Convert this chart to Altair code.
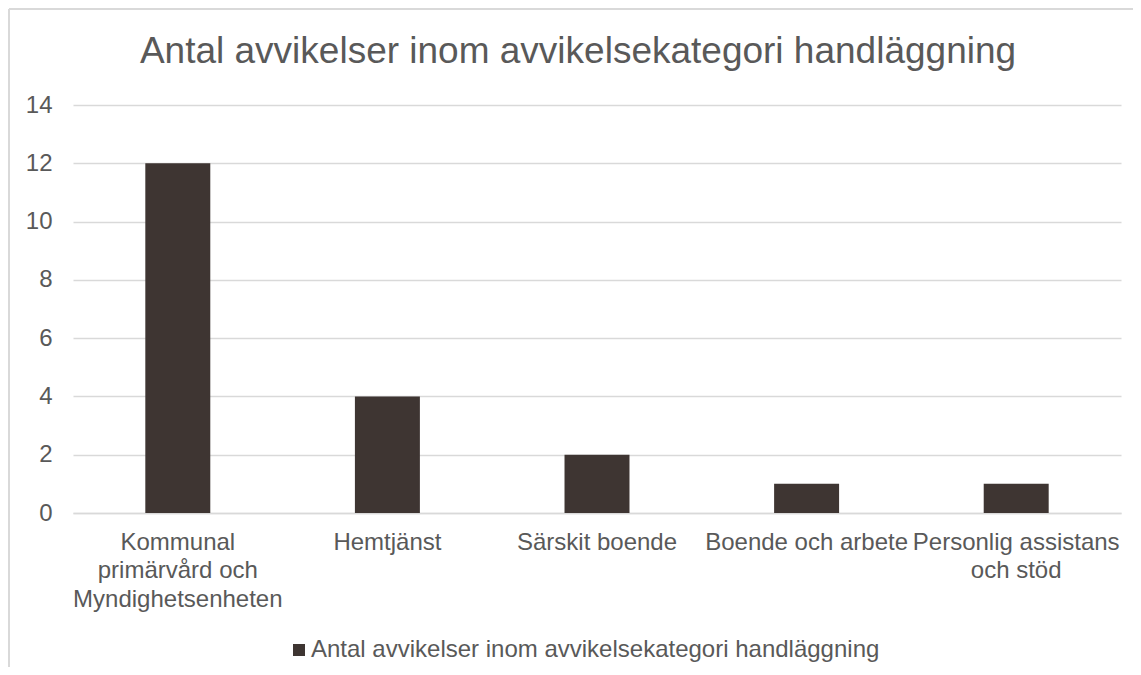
import altair as alt
import pandas as pd

categories = [
    "Kommunal\nprimärvård och\nMyndighetsenheten",
    "Hemtjänst",
    "Särskit boende",
    "Boende och arbete",
    "Personlig assistans\noch stöd",
]
values = [12, 4, 2, 1, 1]
series_name = "Antal avvikelser inom avvikelsekategori handläggning"
y_ticks = [0, 2, 4, 6, 8, 10, 12, 14]

df = pd.DataFrame({"kategori": categories, "antal": values, "serie": series_name})

FONT = "Liberation Sans"
TEXT = "#595959"
GRID = "#D9D9D9"
BAR = "#3E3532"

bars = alt.Chart(df).mark_bar(color=BAR).encode(
    x=alt.X(
        "kategori:N",
        sort=categories,
        scale=alt.Scale(paddingInner=0.69, paddingOuter=0.345),
        axis=alt.Axis(
            title=None,
            labelAngle=0,
            labelExpr="split(datum.label, '\\n')",
            labelFontSize=24,
            labelLineHeight=28.5,
            labelColor=TEXT,
            labelFont=FONT,
            labelPadding=17,
            labelBaseline="top",
            labelLimit=0,
            ticks=False,
            domain=True,
            domainColor=GRID,
            domainWidth=1.3,
            grid=False,
            labelOverlap=False,
        ),
    ),
    y=alt.Y(
        "antal:Q",
        scale=alt.Scale(domain=[0, 14], nice=False),
        axis=alt.Axis(
            title=None,
            values=y_ticks,
            labelFontSize=24,
            labelColor=TEXT,
            labelFont=FONT,
            labelPadding=21,
            ticks=False,
            domain=False,
            gridColor=GRID,
            gridWidth=1.3,
        ),
    ),
    color=alt.Color(
        "serie:N",
        scale=alt.Scale(range=[BAR]),
        legend=alt.Legend(
            title=None,
            orient="none",
            legendX=214,
            legendY=533,
            symbolType="square",
            symbolSize=144,
            symbolStrokeWidth=0,
            labelFontSize=24,
            labelColor=TEXT,
            labelFont=FONT,
            labelOffset=0,
            padding=0,
            labelLimit=0,
        ),
    ),
)

frame_data = alt.Data(values=[{"f": 1}])
frame_top = alt.Chart(frame_data).mark_rule(color=GRID, strokeWidth=2, clip=False).encode(
    x=alt.value(-64), x2=alt.value(1060), y=alt.value(-96)
)
frame_left = alt.Chart(frame_data).mark_rule(color=GRID, strokeWidth=2, clip=False).encode(
    x=alt.value(-64), y=alt.value(-96), y2=alt.value(570)
)

chart = alt.layer(frame_top, frame_left, bars).properties(
    width=1048,
    height=408,
    padding={"left": 65, "top": 97, "right": 12, "bottom": 154},
    autosize=alt.AutoSizeParams(type="none"),
    title=alt.TitleParams(
        text="Antal avvikelser inom avvikelsekategori handläggning",
        fontSize=37,
        font=FONT,
        fontWeight="normal",
        color=TEXT,
        anchor="middle",
        frame="group",
        baseline="alphabetic",
        offset=-92,
        dx=-19,
    ),
).configure(background="white").configure_view(stroke=None)

chart.save("out.html", embed_options={"renderer": "svg", "actions": False})
